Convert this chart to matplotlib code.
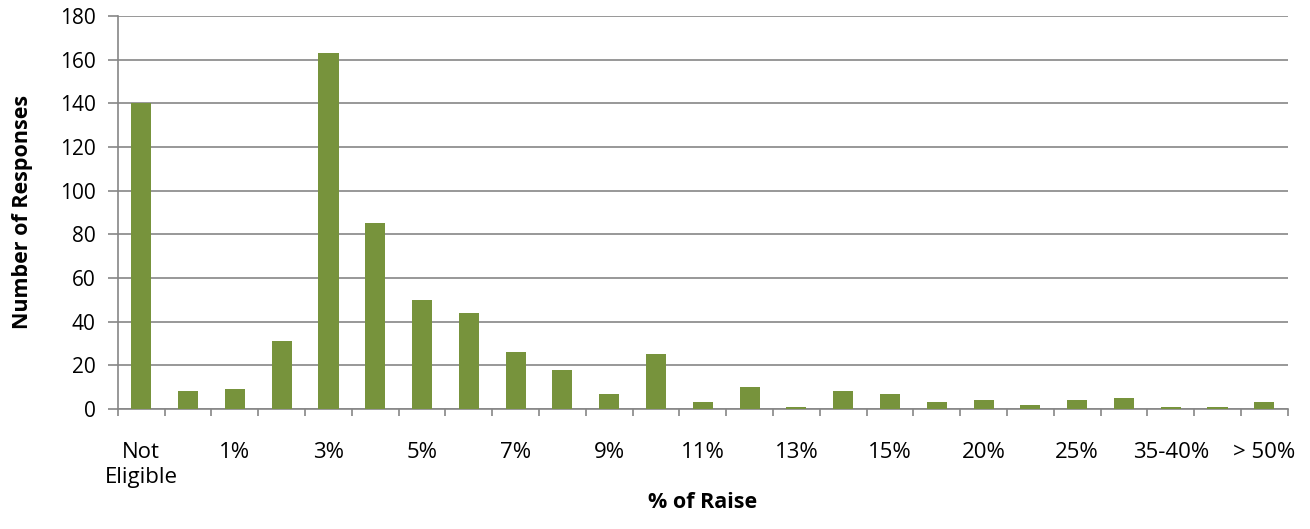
import matplotlib.pyplot as plt
import numpy as np

plt.rcParams['font.family'] = ['Open Sans', 'DejaVu Sans']

categories = ['Not\nEligible', '< 1%', '1%', '2%', '3%', '4%', '5%', '6%', '7%', '8%',
              '9%', '10%', '11%', '12%', '13%', '14%', '15%', '16-19%', '20%',
              '21-24%', '25%', '26-34%', '35-40%', '41-50%', '> 50%']
responses = [140, 8, 9, 31, 163, 85, 50, 44, 26, 18,
             7, 25, 3, 10, 1, 8, 7, 3, 4,
             2, 4, 5, 1, 1, 3]

bar_color = '#77933C'
grid_color = '#868686'

fig = plt.figure(figsize=(13.1, 5.29), dpi=100)
ax = fig.add_axes([0.090, 0.227, 0.893, 0.743])

x = np.arange(len(categories))
ax.bar(x, responses, width=0.43, color=bar_color, zorder=3)

ax.set_xlim(-0.5, len(categories) - 0.5)
ax.set_ylim(0, 180)
ax.set_yticks(np.arange(0, 181, 20))
ax.yaxis.grid(True, color=grid_color, linewidth=1.2, zorder=0)

# every other category gets a label, boundaries get the tick marks
ax.set_xticks(x[::2])
ax.set_xticklabels(categories[::2], linespacing=1.25, va='top')
ax.set_xticks(np.arange(-0.5, len(categories), 1), minor=True)
ax.tick_params(axis='x', which='major', length=0, pad=24, labelsize=16)
ax.tick_params(axis='x', which='minor', length=5, color=grid_color, width=1.2)
ax.tick_params(axis='y', length=7, color=grid_color, width=1.2, labelsize=15, pad=9)

for side in ['top', 'right']:
    ax.spines[side].set_visible(False)
for side in ['left', 'bottom']:
    ax.spines[side].set_color(grid_color)
    ax.spines[side].set_linewidth(1.2)

ax.set_xlabel('% of Raise', fontsize=15.5, fontweight='bold', labelpad=3)
ax.set_ylabel('Number of Responses', fontsize=15.5, fontweight='bold', labelpad=19)

fig.savefig('out.png', dpi=100)
